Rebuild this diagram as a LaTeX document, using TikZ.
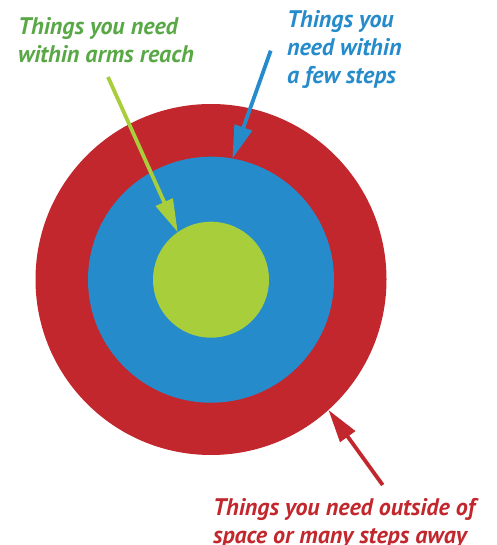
\documentclass[tikz,border=0pt]{standalone}
\usepackage{fontspec}
\setmainfont{PT Sans}
\usetikzlibrary{arrows.meta}
\definecolor{cred}{HTML}{C1272D}
\definecolor{cblue}{HTML}{258BCB}
\definecolor{clime}{HTML}{A9CE3B}
\definecolor{cgreentxt}{HTML}{58A846}
\begin{document}
\begin{tikzpicture}[x=1pt,y=-1pt,
  ring/.style={circle,inner sep=0pt,outer sep=0pt,draw=none},
  label/.style={inner sep=0pt,outer sep=0pt,align=left,anchor=north west,
    font=\fontsize{24}{28}\selectfont\bfseries\itshape},
  pointer/.style={line width=3.8pt,-{Triangle[length=33pt,width=18pt]}}]
\useasboundingbox (0,0) rectangle (496,545);
\node[ring,fill=cred,minimum size=351pt] (red) at (211,279.5) {};
\node[ring,fill=cblue,minimum size=246pt] (blue) at (211,279.7) {};
\node[ring,fill=clime,minimum size=116pt] (green) at (211,279.7) {};
\node[label,text=cgreentxt] (gtxt) at (18,17) {Things you need\\within arms reach};
\node[label,text=cblue] (btxt) at (287,10.5) {Things you\\need within\\a few steps};
\node[label,text=cred] (rtxt) at (213,498) {Things you need outside of\\space or many steps away};
\coordinate (gstart) at (108,77);
\coordinate (bstart) at (270.7,50.7);
\coordinate (rstart) at (382.7,485);
\draw[pointer,draw=clime,fill=clime] (gstart) -- (green.125);
\draw[pointer,draw=cblue,fill=cblue] (bstart) -- (blue.80);
\draw[pointer,draw=cred,fill=cred] (rstart) -- (red.-48.6);
\end{tikzpicture}
\end{document}
